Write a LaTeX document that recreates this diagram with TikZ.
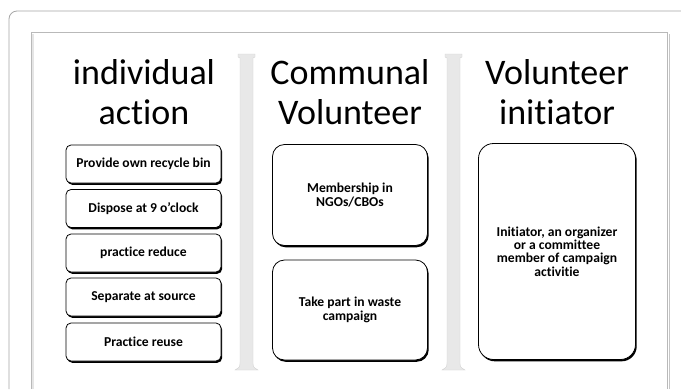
\documentclass[tikz,border=0pt]{standalone}
\usepackage{fontspec}
\setmainfont{Carlito}[Ligatures=NoCommon]
\usetikzlibrary{shadows}
\tikzset{
  hdr/.style={align=center, font=\fontsize{36}{40}\selectfont, inner sep=0pt},
  itembox/.style={draw=black, line width=0.8pt, fill=white, rounded corners=#1,
    align=center, font=\bfseries\fontsize{13.6}{13.4}\selectfont, inner sep=2pt,
    drop shadow={opacity=1, fill=black, shadow xshift=1.2pt, shadow yshift=-1.8pt}},
  itembox/.default=5pt,
  sepbar/.style={fill=gray!18, draw=gray!35, line width=0.4pt}
}
\begin{document}
\begin{tikzpicture}[x=1pt,y=-1pt]
\useasboundingbox (0,0) rectangle (681,389);
\fill[white] (0,0) rectangle (681,389);
% outer frame
\draw[gray!70, line width=0.8pt, rounded corners=8pt] (681,11) -- (9,11) -- (9,389);
% inner panel
\draw[gray!55, line width=0.6pt] (31,389) -- (31,32) -- (667,32) -- (667,389);
\draw[gray!45, line width=1.5pt] (669.5,34) -- (669.5,389);
\draw[gray!20, line width=1.2pt] (33,34) -- (33,389);
% separators
\foreach \sx/\nm in {240/sepa, 447/sepb}{
  \path[sepbar] (\sx-2,54) -- (\sx+15,54) -- (\sx+15,57) -- (\sx+13,58) -- (\sx+13,362)
    .. controls (\sx+13,367) .. (\sx+18,370) -- (\sx-5,370)
    .. controls (\sx,367) .. (\sx,362) -- (\sx,58) -- (\sx-2,57) -- cycle;
}
% headers
\node[hdr] (h1) at (144,124) [anchor=base] {individual\\action};
\node[hdr] (h2) at (350,124) [anchor=base] {Communal\\Volunteer};
\node[hdr] (h3) at (557,124) [anchor=base] {Volunteer\\initiator};
% column 1
\foreach \yy/\txt/\nm in {164/Provide own recycle bin/a1, 208.5/Dispose at 9 o’clock/a2,
  253/practice reduce/a3, 297/Separate at source/a4, 342/Practice reuse/a5}{
  \node[itembox, minimum width=155pt, minimum height=38pt] (\nm) at (143.5,\yy) {\txt};
}
% column 2
\node[itembox=12pt, minimum width=155pt, minimum height=101pt] (b1) at (350,195) {Membership in\\NGOs/CBOs};
\node[itembox=12pt, minimum width=155pt, minimum height=100pt] (b2) at (350,310) {Take part in waste\\campaign};
% column 3
\node[itembox=15pt, minimum width=157pt, minimum height=216pt] (c1) at (557,251.5) {Initiator, an organizer\\or a committee\\member of campaign\\activitie};
\end{tikzpicture}
\end{document}
